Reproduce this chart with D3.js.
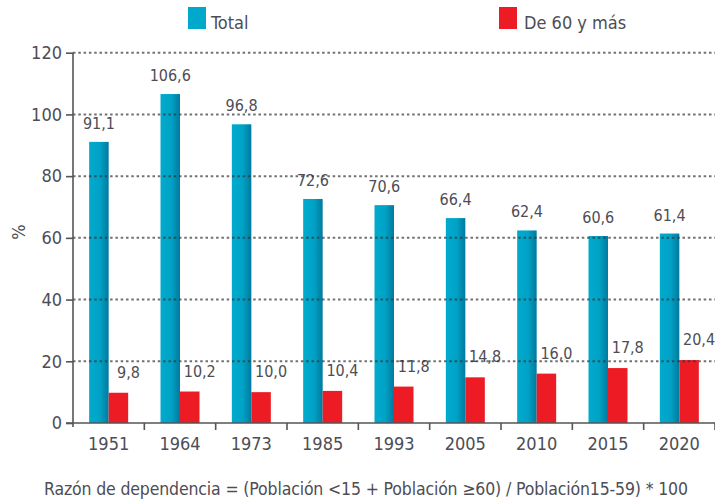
<!DOCTYPE html>
<html>
<head>
<meta charset="utf-8">
<script src="https://cdn.jsdelivr.net/npm/d3@7"></script>
<style>
  body { margin: 0; background: #fff; }
  text { font-family: "DejaVu Sans Condensed", "Liberation Sans Narrow", sans-serif; fill: #4d4d55; }
</style>
</head>
<body>
<svg id="chart" width="715" height="503"></svg>
<script>
const years = ["1951", "1964", "1973", "1985", "1993", "2005", "2010", "2015", "2020"];
const total = [91.1, 106.6, 96.8, 72.6, 70.6, 66.4, 62.4, 60.6, 61.4];
const mayores = [9.8, 10.2, 10.0, 10.4, 11.8, 14.8, 16.0, 17.8, 20.4];
const yTicks = [0, 20, 40, 60, 80, 100, 120];
const seriesNames = ["Total", "De 60 y más"];

const svg = d3.select("#chart");
const mLeft = 73, mRight = 715, mTop = 52.7, mBottom = 423;

const x = d3.scaleBand().domain(years).range([mLeft, mRight]);
const y = d3.scaleLinear().domain([0, 120]).range([mBottom, mTop]);
const fmt = v => v.toFixed(1).replace(".", ",");

// gradient for the blue bars
const defs = svg.append("defs");
const grad = defs.append("linearGradient").attr("id", "blueGrad")
  .attr("x1", "0%").attr("x2", "100%");
grad.append("stop").attr("offset", "0%").attr("stop-color", "#00abcd");
grad.append("stop").attr("offset", "55%").attr("stop-color", "#00a2c6");
grad.append("stop").attr("offset", "100%").attr("stop-color", "#007a9e");

const barW = 19.5;

// bars
const groups = svg.append("g").selectAll("g")
  .data(years)
  .enter().append("g");

groups.append("rect")
  .attr("x", d => x(d) + x.bandwidth() / 2 - barW)
  .attr("y", (d, i) => y(total[i]))
  .attr("width", barW)
  .attr("height", (d, i) => mBottom - y(total[i]))
  .attr("fill", "url(#blueGrad)");

groups.append("rect")
  .attr("x", d => x(d) + x.bandwidth() / 2)
  .attr("y", (d, i) => y(mayores[i]))
  .attr("width", barW)
  .attr("height", (d, i) => mBottom - y(mayores[i]))
  .attr("fill", "#ed1c24");

// gridlines (drawn over the bars, as in the original)
svg.append("g").selectAll("line")
  .data(yTicks.filter(d => d > 0))
  .enter().append("line")
  .attr("x1", mLeft).attr("x2", mRight)
  .attr("y1", d => y(d)).attr("y2", d => y(d))
  .attr("stroke", "#333").attr("stroke-opacity", 0.7).attr("stroke-width", 2)
  .attr("stroke-dasharray", "2.5,2.8");

// value labels
groups.append("text")
  .attr("x", d => x(d) + x.bandwidth() / 2 - barW / 2)
  .attr("y", (d, i) => y(total[i]) - 13)
  .attr("text-anchor", "middle")
  .attr("font-size", 16)
  .text((d, i) => fmt(total[i]));

groups.append("text")
  .attr("x", d => x(d) + x.bandwidth() / 2 + barW / 2 + 10)
  .attr("y", (d, i) => y(mayores[i]) - 15)
  .attr("text-anchor", "middle")
  .attr("font-size", 16)
  .text((d, i) => fmt(mayores[i]));

// y axis
const yAxis = svg.append("g")
  .attr("transform", "translate(" + mLeft + ",0)")
  .call(d3.axisLeft(y).tickValues(yTicks).tickSize(7).tickPadding(4));
yAxis.select(".domain").attr("stroke", "#555").attr("stroke-width", 1.6)
  .attr("d", "M0," + mTop + "V" + (mBottom + 4));
yAxis.selectAll(".tick line").attr("stroke", "#555").attr("stroke-width", 1.6);
yAxis.selectAll(".tick text").attr("font-size", 18).attr("fill", "#4d4d55")
  .attr("font-family", "DejaVu Sans Condensed, sans-serif");

// x axis
svg.append("line")
  .attr("x1", mLeft - 7).attr("x2", mRight)
  .attr("y1", mBottom).attr("y2", mBottom)
  .attr("stroke", "#555").attr("stroke-width", 1.6);
svg.append("g").selectAll("line")
  .data(years)
  .enter().append("line")
  .attr("x1", d => x(d) + x.bandwidth()).attr("x2", d => x(d) + x.bandwidth())
  .attr("y1", mBottom).attr("y2", mBottom + 7)
  .attr("stroke", "#555").attr("stroke-width", 1.6);
svg.append("g").selectAll("text")
  .data(years)
  .enter().append("text")
  .attr("x", d => x(d) + x.bandwidth() / 2)
  .attr("y", 450)
  .attr("text-anchor", "middle")
  .attr("font-size", 18)
  .text(d => d);

// y title
svg.append("text")
  .attr("transform", "translate(25,232) rotate(-90)")
  .attr("text-anchor", "middle")
  .attr("font-size", 18)
  .text("%");

// legend
const legend = [
  { name: seriesNames[0], color: "#00a8cb", x: 188, tx: 211 },
  { name: seriesNames[1], color: "#ed1c24", x: 499, tx: 524 }
];
legend.forEach(l => {
  svg.append("rect").attr("x", l.x).attr("y", 7).attr("width", 18).attr("height", 22)
    .attr("fill", l.color);
  svg.append("text").attr("x", l.tx).attr("y", 29).attr("font-size", 18).text(l.name);
});

// footnote
svg.append("text")
  .attr("x", 44).attr("y", 495)
  .attr("font-size", 17.5)
  .attr("textLength", 644)
  .text("Razón de dependencia = (Población <15 + Población ≥60) / Población15-59) * 100");
</script>
</body>
</html>
